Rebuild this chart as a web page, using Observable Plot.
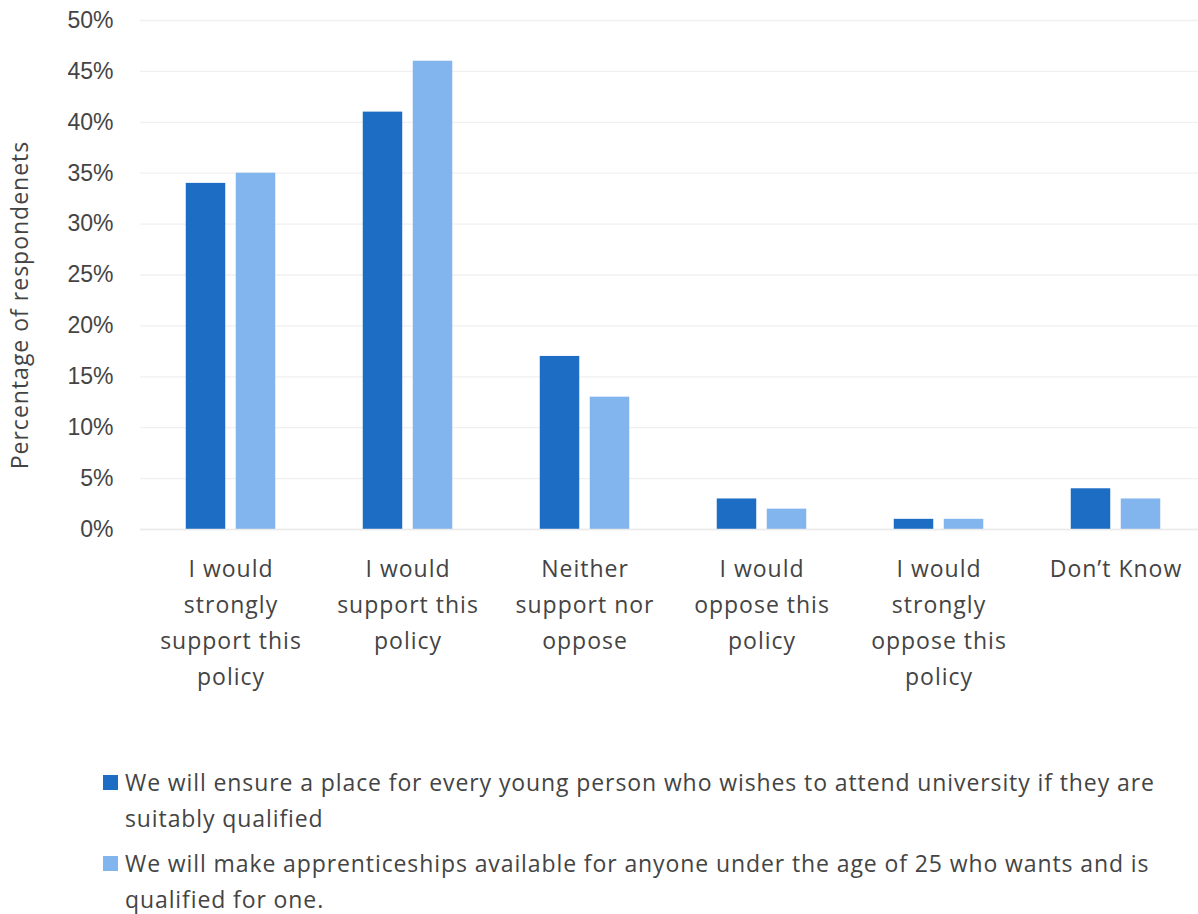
<!DOCTYPE html>
<html>
<head>
<meta charset="utf-8">
<script src="https://cdn.jsdelivr.net/npm/d3@7"></script>
<script src="https://cdn.jsdelivr.net/npm/@observablehq/plot@0.6"></script>
<style>
  html, body { margin: 0; padding: 0; background: #fff; }
  body { width: 1198px; height: 914px; overflow: hidden; font-family: "Open Sans", sans-serif; color: #444; }
  #legend { margin: 24px 0 0 103px; width: 1092px; font-size: 23px; letter-spacing: 0.9px; line-height: 36px; color: #444; }
  .item { display: flex; align-items: flex-start; margin-bottom: 9px; }
  .sw { flex: 0 0 15px; width: 15px; height: 15px; margin: 11px 7px 0 0; }
  g[aria-label="text"] text { letter-spacing: 1px; }
</style>
</head>
<body>
<div id="chart"></div>
<div id="legend"></div>
<script>
const categories = ["s1", "s2", "n", "o1", "o2", "dk"];
const categoryLabels = [
  "I would\nstrongly\nsupport this\npolicy",
  "I would\nsupport this\npolicy",
  "Neither\nsupport nor\noppose",
  "I would\noppose this\npolicy",
  "I would\nstrongly\noppose this\npolicy",
  "Don\u2019t Know"
];
const seriesNames = [
  "We will ensure a place for every young person who wishes to attend university if they are suitably qualified",
  "We will make apprenticeships available for anyone under the age of 25 who wants and is qualified for one."
];
const seriesColors = ["#1c6dc3", "#82b5ed"];
const universityValues = [34, 41, 17, 3, 1, 4];
const apprenticeValues = [35, 46, 13, 2, 1, 3];
const yTicks = [0, 5, 10, 15, 20, 25, 30, 35, 40, 45, 50];
const yTitle = "Percentage of respondenets";

const uni = categories.map((c, i) => ({cat: c, value: universityValues[i]}));
const app = categories.map((c, i) => ({cat: c, value: apprenticeValues[i]}));
const labels = categories.map((c, i) => ({cat: c, label: categoryLabels[i]}));

const inset = 68.75;
const chart = Plot.plot({
  width: 1198,
  height: 740,
  marginTop: 20,
  marginBottom: 211,
  marginLeft: 140,
  marginRight: -7,
  style: {fontFamily: "'Open Sans', sans-serif", color: "#444", background: "#fff"},
  x: {domain: categories, padding: 0, axis: null},
  y: {domain: [0, 50], axis: null},
  marks: [
    Plot.gridY(yTicks, {stroke: "#f0f0f0", strokeOpacity: 1, strokeWidth: 1.3}),
    Plot.axisY(yTicks, {tickSize: 0, tickPadding: 27, tickFormat: d => d + "%", fontSize: 23, fill: "#444", label: null, fontFamily: "Liberation Sans, Arial, sans-serif"}),
    Plot.barY(uni, {x: "cat", y: "value", fill: seriesColors[0], insetLeft: inset, insetRight: inset, dx: -25}),
    Plot.barY(app, {x: "cat", y: "value", fill: seriesColors[1], insetLeft: inset, insetRight: inset, dx: 25}),
    Plot.ruleY([0], {stroke: "#ebebeb", strokeWidth: 1.5}),
    Plot.text(labels, {x: "cat", y: 0, text: "label", lineAnchor: "top", dy: 22, fontSize: 23, lineHeight: 36 / 23, fill: "#444"}),
    Plot.text([yTitle], {frameAnchor: "left", text: d => d, rotate: -90, textAnchor: "middle", dx: -120, dy: 30, fontSize: 23, fill: "#444"})
  ]
});
document.getElementById("chart").appendChild(chart);

const legend = document.getElementById("legend");
seriesNames.forEach((name, i) => {
  const item = document.createElement("div");
  item.className = "item";
  const sw = document.createElement("span");
  sw.className = "sw";
  sw.style.background = seriesColors[i];
  const t = document.createElement("span");
  t.textContent = name;
  item.appendChild(sw);
  item.appendChild(t);
  legend.appendChild(item);
});
</script>
</body>
</html>
